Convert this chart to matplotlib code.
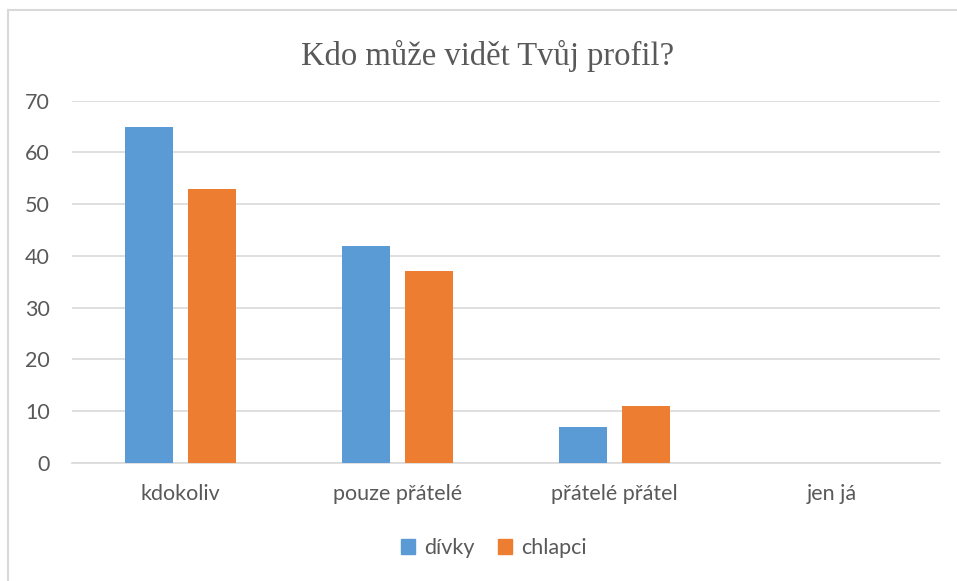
import matplotlib
matplotlib.use("Agg")
import matplotlib.pyplot as plt
import numpy as np
from matplotlib.lines import Line2D
from matplotlib.patches import Patch

categories = ["kdokoliv", "pouze přátelé", "přátelé přátel", "jen já"]
divky = [65, 42, 7, 0]
chlapci = [53, 37, 11, 0]
series_names = ["dívky", "chlapci"]
yticks = [0, 10, 20, 30, 40, 50, 60, 70]

blue = "#5B9BD5"
orange = "#ED7D31"
grid_c = "#D9D9D9"
text_c = "#595959"
sans = ["Lato", "DejaVu Sans"]

W, H = 957, 581
fig = plt.figure(figsize=(W / 100, H / 100), dpi=100)
ax = fig.add_axes([72 / W, 1 - 463 / H, (940 - 72) / W, (463 - 100.7) / H])

x = np.arange(len(categories))
bw = 0.221
off = 0.143
ax.bar(x - off, divky, bw, color=blue, zorder=3)
ax.bar(x + off, chlapci, bw, color=orange, zorder=3)

ax.set_xlim(-0.5, len(categories) - 0.5)
ax.set_ylim(0, 70)
ax.set_yticks(yticks)
ax.yaxis.grid(True, color=grid_c, linewidth=1.2, zorder=0)
ax.set_axisbelow(True)
for s in ["top", "right", "left"]:
    ax.spines[s].set_visible(False)
ax.spines["bottom"].set_color(grid_c)
ax.spines["bottom"].set_linewidth(1.2)
ax.tick_params(length=0)
ax.set_xticks(x)
ax.set_xticklabels(categories)
for lab in ax.get_xticklabels() + ax.get_yticklabels():
    lab.set_family(sans)
    lab.set_fontsize(15.5)
    lab.set_color(text_c)
ax.tick_params(axis="y", pad=16)
ax.tick_params(axis="x", pad=15)

fig.text(488 / W, 1 - 65 / H, "Kdo může vidět Tvůj profil?", ha="center", va="baseline",
         family=["Liberation Serif", "DejaVu Serif"], fontsize=23.5, color=text_c)

handles = [Patch(color=blue), Patch(color=orange)]
leg = fig.legend(handles, series_names, loc="center", bbox_to_anchor=(494 / W, 1 - 548 / H),
                 ncol=2, frameon=False, handlelength=0.65, handleheight=0.65,
                 handletextpad=0.4, columnspacing=1.1,
                 prop={"family": sans, "size": 15.5})
for t in leg.get_texts():
    t.set_color(text_c)

# chart border (left and top edges visible)
fig.add_artist(Line2D([8 / W, 8 / W], [0, 1 - 10 / H], transform=fig.transFigure, color=grid_c, linewidth=1.5))
fig.add_artist(Line2D([8 / W, 1], [1 - 10 / H, 1 - 10 / H], transform=fig.transFigure, color=grid_c, linewidth=1.5))

fig.savefig("out.png", dpi=100)
